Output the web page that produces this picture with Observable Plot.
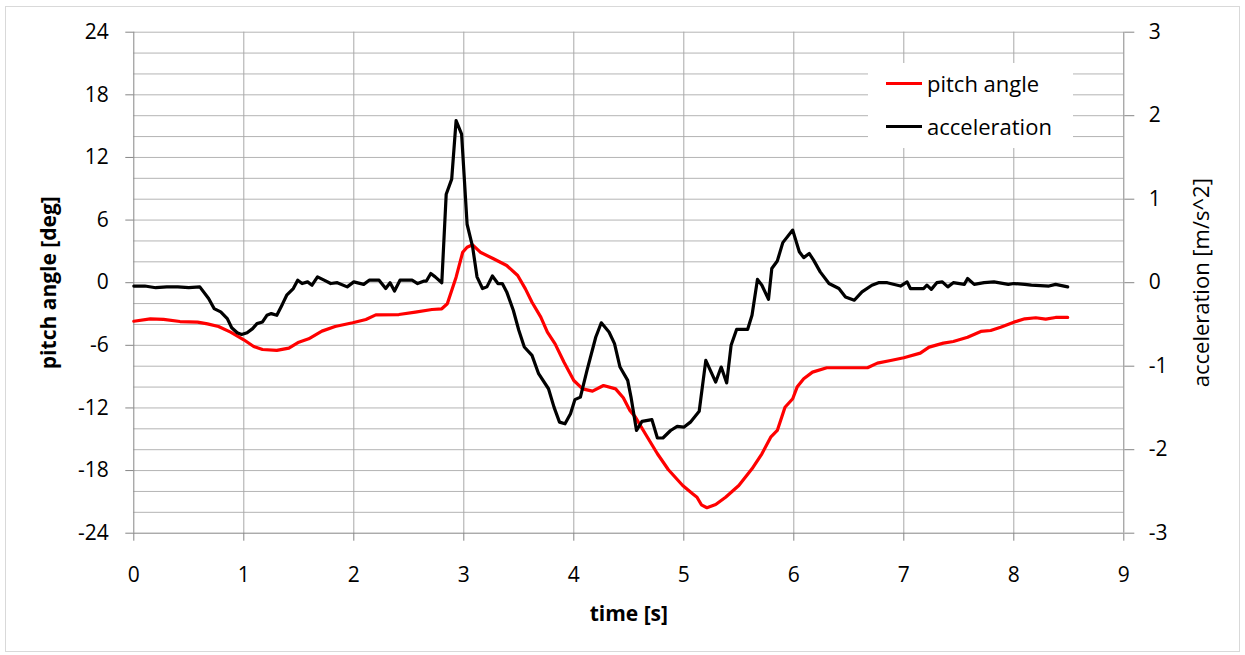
<!DOCTYPE html>
<html><head><meta charset="utf-8">
<script src="https://cdn.jsdelivr.net/npm/d3@7"></script>
<script src="https://cdn.jsdelivr.net/npm/@observablehq/plot@0.6"></script>
<style>
body{margin:0;background:#fff;font-family:"Open Sans",sans-serif;}
#wrap{position:relative;width:1245px;height:655px;overflow:hidden;}
#border{position:absolute;left:5px;top:6px;width:1233px;height:644px;border:1px solid #d9d9d9;}
#chart{position:absolute;left:0;top:0;}
#legend{position:absolute;left:868px;top:63px;width:205px;height:85px;background:#fff;}
.row{position:absolute;left:18px;height:28px;display:flex;align-items:center;font-size:22px;color:#000;white-space:nowrap;}
.sw{width:36px;height:3px;margin-right:5px;}
</style></head>
<body>
<div id="wrap"><div id="border"></div><div id="chart"></div>
<div id="legend">
  <div class="row" style="top:6px"><span class="sw" style="background:#ff0000"></span>pitch angle</div>
  <div class="row" style="top:49px"><span class="sw" style="background:#000"></span>acceleration</div>
</div></div>
<script>
// ---- data ----
const pitchT = [0,0.15,0.27,0.42,0.58,0.67,0.77,0.88,1.0,1.09,1.17,1.30,1.41,1.50,1.59,1.71,1.83,1.99,2.11,2.20,2.41,2.56,2.71,2.80,2.85,2.93,2.99,3.03,3.08,3.15,3.27,3.39,3.49,3.56,3.62,3.70,3.76,3.83,3.91,4.0,4.08,4.17,4.27,4.38,4.45,4.51,4.56,4.65,4.76,4.86,4.99,5.08,5.12,5.16,5.21,5.29,5.38,5.50,5.62,5.71,5.79,5.85,5.92,5.99,6.03,6.09,6.17,6.30,6.67,6.76,6.88,7.0,7.15,7.23,7.36,7.45,7.58,7.70,7.79,7.88,8.0,8.10,8.20,8.29,8.38,8.49];
const pitchDeg = [-3.69,-3.46,-3.52,-3.72,-3.78,-3.94,-4.2,-4.74,-5.47,-6.11,-6.40,-6.49,-6.27,-5.7,-5.38,-4.64,-4.2,-3.84,-3.52,-3.08,-3.05,-2.82,-2.57,-2.5,-2.02,0.53,2.92,3.4,3.63,2.92,2.29,1.65,0.69,-0.59,-1.87,-3.3,-4.74,-5.86,-7.6,-9.37,-10.17,-10.39,-9.85,-10.17,-11.03,-12.24,-12.88,-14.47,-16.39,-17.92,-19.43,-20.22,-20.55,-21.28,-21.56,-21.25,-20.55,-19.43,-17.83,-16.39,-14.8,-14.16,-11.93,-11.12,-10.0,-9.2,-8.57,-8.15,-8.15,-7.71,-7.45,-7.19,-6.75,-6.17,-5.79,-5.63,-5.22,-4.67,-4.58,-4.26,-3.78,-3.46,-3.36,-3.49,-3.33,-3.33];
const accelT = [0,0.1,0.2,0.3,0.4,0.5,0.6,0.68,0.73,0.79,0.85,0.89,0.94,0.98,1.03,1.08,1.12,1.17,1.21,1.25,1.30,1.35,1.39,1.45,1.49,1.53,1.58,1.62,1.67,1.73,1.79,1.85,1.94,2.0,2.09,2.14,2.23,2.29,2.33,2.37,2.42,2.53,2.58,2.64,2.66,2.70,2.74,2.80,2.84,2.89,2.93,2.98,3.03,3.08,3.12,3.17,3.21,3.26,3.31,3.35,3.39,3.45,3.50,3.55,3.62,3.68,3.77,3.82,3.87,3.92,3.97,4.01,4.06,4.12,4.20,4.25,4.32,4.37,4.42,4.49,4.52,4.57,4.62,4.71,4.76,4.81,4.88,4.94,5.0,5.06,5.14,5.20,5.29,5.34,5.39,5.43,5.48,5.58,5.62,5.67,5.71,5.77,5.80,5.85,5.90,5.99,6.05,6.09,6.14,6.18,6.24,6.32,6.41,6.47,6.55,6.62,6.71,6.77,6.85,6.97,7.03,7.06,7.18,7.21,7.25,7.30,7.35,7.40,7.45,7.55,7.58,7.64,7.73,7.82,7.95,8.0,8.10,8.16,8.32,8.38,8.49];
const accelV = [-0.04,-0.04,-0.06,-0.05,-0.05,-0.06,-0.05,-0.19,-0.31,-0.35,-0.43,-0.54,-0.60,-0.62,-0.60,-0.55,-0.49,-0.47,-0.39,-0.37,-0.39,-0.26,-0.15,-0.07,0.03,-0.01,0.01,-0.03,0.07,0.03,-0.01,0.0,-0.05,0.01,-0.02,0.03,0.03,-0.07,0.0,-0.10,0.03,0.03,-0.01,0.02,0.02,0.11,0.07,0.0,1.06,1.24,1.94,1.78,0.70,0.43,0.07,-0.07,-0.05,0.08,-0.01,-0.01,-0.11,-0.33,-0.57,-0.77,-0.87,-1.09,-1.27,-1.49,-1.67,-1.69,-1.57,-1.40,-1.37,-1.05,-0.65,-0.48,-0.59,-0.73,-1.01,-1.17,-1.37,-1.77,-1.66,-1.64,-1.86,-1.86,-1.77,-1.72,-1.73,-1.67,-1.54,-0.93,-1.19,-1.01,-1.20,-0.75,-0.56,-0.56,-0.39,0.04,-0.03,-0.20,0.17,0.26,0.48,0.63,0.37,0.30,0.35,0.27,0.13,-0.01,-0.07,-0.17,-0.21,-0.11,-0.03,0.0,0.0,-0.04,0.01,-0.07,-0.07,-0.03,-0.08,0.0,0.01,-0.05,0.0,-0.02,0.05,-0.02,0.0,0.01,-0.02,-0.01,-0.02,-0.03,-0.04,-0.02,-0.05];
const timeTicks = [0,1,2,3,4,5,6,7,8,9];
const pitchTicks = [-24,-18,-12,-6,0,6,12,18,24];
const accelTicks = [-3,-2,-1,0,1,2,3];
const gridPitch = [-22,-20,-18,-16,-14,-12,-10,-8,-6,-4,-2,0,2,4,6,8,10,12,14,16,18,20,22,24];
const gridTime = [1,2,3,4,5,6,7,8];
const accelRatio = 8; // 1 m/s^2 on the right axis = 8 deg on the left axis

const pitchData = pitchT.map((t, i) => ({t, v: pitchDeg[i]}));
const accelData = accelT.map((t, i) => ({t, a: accelV[i]}));

const chart = Plot.plot({
  width: 1245, height: 655,
  marginLeft: 133.3, marginRight: 121.7, marginTop: 31.7, marginBottom: 122.3,
  style: {fontFamily: '"Open Sans", sans-serif', fontSize: "21px", color: "#000", background: "transparent", overflow: "visible"},
  x: {domain: [0, 9]},
  y: {domain: [-24, 24]},
  marks: [
    Plot.ruleY(gridPitch, {stroke: "#b4b4b4"}),
    Plot.ruleX(gridTime, {stroke: "#a8a8a8"}),
    Plot.ruleX([0, 9], {stroke: "#868686"}),
    Plot.ruleY([-24], {stroke: "#868686"}),
    Plot.axisY(pitchTicks, {anchor: "left", tickSize: 8, tickPadding: 17, tickFormat: d => String(d), label: null, stroke: "#868686", fill: "#000", fontSize: 21}),
    Plot.axisY(accelTicks.map(a => a * accelRatio), {anchor: "right", tickSize: 10, tickPadding: 15, tickFormat: d => String(d / accelRatio), label: null, stroke: "#868686", fill: "#000", fontSize: 21}),
    Plot.axisX(timeTicks, {anchor: "bottom", tickSize: 8, tickPadding: 26, tickFormat: d => String(d), label: null, stroke: "#868686", fill: "#000", fontSize: 21}),
    Plot.line(pitchData, {x: "t", y: "v", stroke: "#ff0000", strokeWidth: 3.2, strokeLinejoin: "round"}),
    Plot.line(accelData, {x: "t", y: d => d.a * accelRatio, stroke: "#000000", strokeWidth: 3.2, strokeLinejoin: "round"}),
    Plot.text(["pitch angle [deg]"], {frameAnchor: "left", textAnchor: "middle", text: d => d, rotate: -90, dx: -85, fontWeight: "bold", fontSize: 21, fill: "#000"}),
    Plot.text(["acceleration [m/s^2]"], {frameAnchor: "right", textAnchor: "middle", text: d => d, rotate: -90, dx: 78, fontSize: 22, fill: "#000"}),
    Plot.text(["time [s]"], {frameAnchor: "bottom", textAnchor: "middle", text: d => d, dy: 88, fontWeight: "bold", fontSize: 21, fill: "#000"})
  ]
});
document.getElementById("chart").appendChild(chart);
</script>
</body></html>
